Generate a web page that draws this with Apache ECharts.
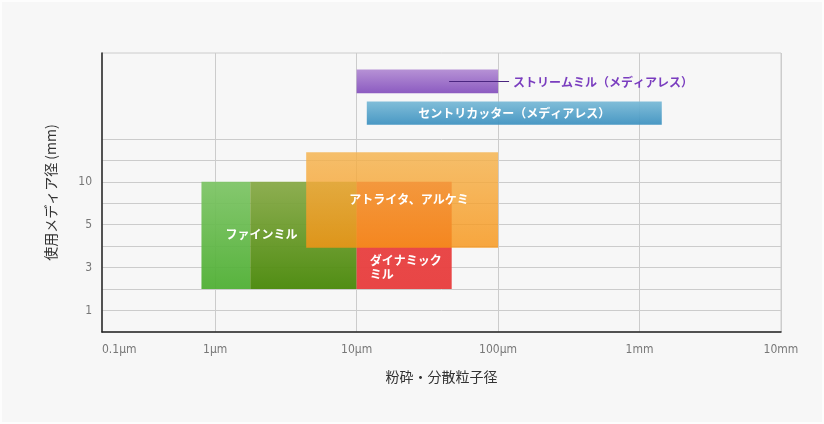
<!DOCTYPE html>
<html>
<head>
<meta charset="utf-8">
<script src="https://cdn.jsdelivr.net/npm/echarts@6/dist/echarts.min.js"></script>
<style>
html,body{margin:0;padding:0;background:#ffffff;}
#wrap{position:relative;width:824px;height:424px;}
#chart{width:824px;height:424px;}
#frame{position:absolute;left:0;top:0;width:820px;height:420px;border:2px solid #fdfdfd;pointer-events:none;}
</style>
</head>
<body>
<div id="wrap"><div id="chart"></div><div id="frame"></div></div>
<script>
// ---- data ----
// x: particle size in µm (log axis in decades), y: media-size row position on the y axis
const rectNames = ['ファインミル(A)', 'ファインミル(B)', 'ダイナミックミル', 'アトライタ、アルケミ', 'セントリカッター', 'ストリームミル'];
const xStartUm = [0.8, 1.77, 10, 4.4, 11.8, 10];
const xEndUm   = [1.77, 10, 47, 100, 1436, 100];
const yLow     = [2, 2, 2, 3.92, 9.66, 11.12];
const yHigh    = [7, 7, 7, 8.37, 10.74, 12.23];
const rectLabels = ['ファインミル', '', 'ダイナミック\nミル', 'アトライタ、アルケミ', 'セントリカッター（メディアレス）', 'ストリームミル（メディアレス）'];

const xTickUm     = [0.1, 1, 10, 100, 1000, 10000];
const xTickLabels = ['0.1µm', '1µm', '10µm', '100µm', '1mm', '10mm'];
const yTickPos    = [1, 3, 5, 7];
const yTickLabels = ['1', '3', '5', '10'];
const yGridPos    = [1, 2, 3, 4, 5, 6, 7, 8, 9];

// ---- styles ----
const X_MIN = -0.8, X_MAX = 4, Y_MIN = 0, Y_MAX = 13;
function grad(top, bottom) {
  return new echarts.graphic.LinearGradient(0, 0, 0, 1, [
    {offset: 0, color: top}, {offset: 1, color: bottom}
  ]);
}
const fills = [
  grad('rgba(124,196,100,0.93)', 'rgba(76,174,48,0.93)'),
  grad('rgba(136,170,72,0.95)', 'rgba(72,136,8,0.95)'),
  grad('rgba(232,70,70,0.97)', 'rgba(232,64,64,0.97)'),
  grad('rgba(245,178,75,0.82)', 'rgba(247,148,22,0.82)'),
  grad('rgba(120,185,214,0.93)', 'rgba(60,145,192,0.93)'),
  grad('rgba(180,142,212,0.97)', 'rgba(136,86,191,0.97)')
];
// label placement: mode, dx, dy (relative to rect top-left) / center / outside right
const labelPlace = [
  {mode: 'lt', dx: 24, dy: 53},
  null,
  {mode: 'lt', dx: 13, dy: 86},
  {mode: 'lt', dx: 43, dy: 47},
  {mode: 'center'},
  {mode: 'outside'}
];
const JP = '"Noto Sans CJK JP", sans-serif';
const NUM = '"Liberation Sans Narrow", "DejaVu Sans Condensed", "Roboto", sans-serif';

const lg = v => Math.log10(v);
const seriesData = rectNames.map((n, i) => ({
  name: n,
  value: [lg(xStartUm[i]), lg(xEndUm[i]), yLow[i], yHigh[i]]
}));

function renderItem(params, api) {
  const i = params.dataIndex;
  const p0 = api.coord([api.value(0), api.value(3)]);
  const p1 = api.coord([api.value(1), api.value(2)]);
  const x = p0[0], y = p0[1], w = p1[0] - p0[0], h = p1[1] - p0[1];
  const children = [{
    type: 'rect',
    shape: {x: x, y: y, width: w, height: h},
    style: {fill: fills[i]},
    z2: i
  }];
  const lp = labelPlace[i];
  const txt = rectLabels[i];
  if (lp && txt) {
    if (lp.mode === 'lt') {
      children.push({type: 'text', z2: 100, x: x + lp.dx, y: y + lp.dy,
        style: {text: txt, fill: '#fff', font: 'bold 12px ' + JP, align: 'left', verticalAlign: 'middle', lineHeight: 14}});
    } else if (lp.mode === 'center') {
      children.push({type: 'text', z2: 100, x: x + w / 2, y: y + h / 2,
        style: {text: txt, fill: '#fff', font: 'bold 12px ' + JP, align: 'center', verticalAlign: 'middle'}});
    } else if (lp.mode === 'outside') {
      const cy = Math.round(y + h / 2) + 0.5;
      children.push({type: 'line', z2: 100, shape: {x1: x + w - 49, y1: cy, x2: x + w + 11, y2: cy},
        style: {stroke: '#4a2580', lineWidth: 1}});
      children.push({type: 'text', z2: 100, x: x + w + 15, y: y + h / 2 + 1,
        style: {text: txt, fill: '#7a3dbf', font: 'bold 12px ' + JP, align: 'left', verticalAlign: 'middle'}});
    }
  }
  return {type: 'group', children: children};
}

const chart = echarts.init(document.getElementById('chart'), null, {renderer: 'canvas'});
chart.setOption({
  backgroundColor: '#f7f7f7',
  animation: false,
  grid: {left: 102, right: 43, top: 53, bottom: 92, show: true, borderColor: '#cccccc', borderWidth: 1, containLabel: false},
  xAxis: {
    type: 'value', min: X_MIN, max: X_MAX,
    name: '粉砕・分散粒子径', nameLocation: 'middle', nameGap: 38,
    nameTextStyle: {color: '#333', fontSize: 14, fontFamily: JP},
    axisLine: {show: true, onZero: false, lineStyle: {color: '#222', width: 1.5}},
    axisTick: {show: false, customValues: [0, 1, 2, 3, 4]},
    splitLine: {show: true, lineStyle: {color: '#cccccc', width: 1}},
    axisLabel: {
      customValues: xTickUm.map(v => Math.max(lg(v), X_MIN)),
      formatter: function (v) {
        let best = 0, bd = 1e9;
        xTickUm.forEach((u, k) => { const d = Math.abs(Math.max(lg(u), X_MIN) - v); if (d < bd) { bd = d; best = k; } });
        return xTickLabels[best];
      },
      alignMinLabel: 'left',
      color: '#777', fontSize: 12, fontFamily: NUM, margin: 12
    }
  },
  yAxis: {
    type: 'value', min: Y_MIN, max: Y_MAX,
    name: '使用メディア径 (mm)', nameLocation: 'middle', nameGap: 44, nameRotate: 90,
    nameTextStyle: {color: '#333', fontSize: 14, fontFamily: JP},
    axisLine: {show: true, onZero: false, lineStyle: {color: '#222', width: 1.5}},
    axisTick: {show: false, customValues: yGridPos},
    splitLine: {show: true, lineStyle: {color: '#cccccc', width: 1}},
    axisLabel: {
      customValues: yTickPos,
      formatter: function (v) { const k = yTickPos.indexOf(Math.round(v)); return k >= 0 ? yTickLabels[k] : ''; },
      color: '#777', fontSize: 12, fontFamily: NUM, margin: 10
    }
  },
  series: [{
    type: 'custom',
    renderItem: renderItem,
    data: seriesData,
    encode: {x: [0, 1], y: [2, 3]},
    clip: false
  }]
});
</script>
</body>
</html>
